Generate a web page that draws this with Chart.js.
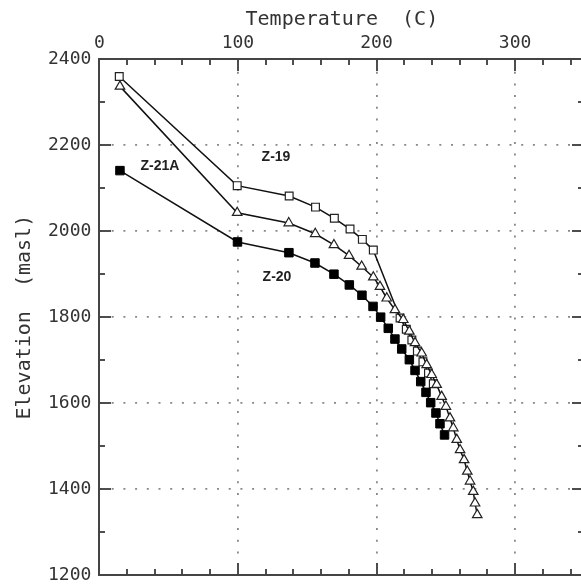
<!DOCTYPE html>
<html>
<head>
<meta charset="utf-8">
<script src="https://cdn.jsdelivr.net/npm/chart.js@4.4.0/dist/chart.umd.min.js"></script>
<style>
  html, body { margin: 0; padding: 0; background: #fff; overflow: hidden; }
  #wrap { width: 581px; height: 584px; overflow: hidden; }
</style>
</head>
<body>
<div id="wrap"><canvas id="mycanvas" width="600" height="584"></canvas></div>
<script>
// open squares
var temp19 = [14.4, 99.5, 137, 156, 169.6, 180.9, 189.8, 197.7, 217, 221.5, 225.5, 229.5, 233.5, 237.5, 241];
var elev19 = [2360, 2106, 2082, 2056, 2030, 2005, 1981, 1956, 1798, 1772, 1747, 1721, 1696, 1670, 1645];
// open triangles
var temp21 = [14.9, 99.5, 136.7, 155.8, 169.3, 180.2, 189.3, 197.7, 202.5, 207.4, 213.3, 219.3, 223.7, 227.8, 232.6,
              236.2, 239.8, 243.4, 247.0, 250.1, 253.0, 255.4, 257.9, 260.3, 263.2, 265.5, 267.5, 269.8, 271.1, 272.7];
var elev21 = [2337, 2043, 2019, 1994, 1968, 1943, 1918, 1893, 1871, 1844, 1817, 1794, 1767, 1740, 1716,
              1689, 1666, 1643, 1615, 1592, 1565, 1542, 1515, 1491, 1468, 1441, 1418, 1394, 1367, 1340];
// filled squares
var temp20 = [14.9, 99.7, 136.8, 155.6, 169.3, 180.4, 189.5, 197.5, 203, 208.5, 213.3, 218.2, 223.7, 227.8, 231.9,
              235.7, 239.1, 242.9, 245.8, 249.1];
var elev20 = [2141, 1975, 1950, 1926, 1900, 1875, 1851, 1825, 1800, 1774, 1749, 1726, 1701, 1676, 1650,
              1625, 1601, 1577, 1552, 1526];

// well labels written inside the plot (data coordinates)
var wellNames = ["Z-21A", "Z-19", "Z-20"];
var wellLabelX = [43.8, 127.5, 128.2];
var wellLabelY = [2152, 2173, 1894];

var xTicks = [0, 100, 200, 300];
var yTicks = [1200, 1400, 1600, 1800, 2000, 2200, 2400];

function pts(xs, ys) {
  var out = [];
  for (var i = 0; i < xs.length; i++) out.push({x: xs[i], y: ys[i]});
  return out;
}

var tickFont = { family: "'DejaVu Sans Mono', monospace", size: 18 };
var titleFont = { family: "'DejaVu Sans Mono', monospace", size: 20 };
var frameColor = '#444';

function noPad(scale) {
  scale.paddingLeft = 0; scale.paddingRight = 0;
  scale.paddingTop = 0; scale.paddingBottom = 0;
}

// frame drawn with filled rects, inward ticks, well names
function drawFrame(chart) {
  var c = chart.ctx, a = chart.chartArea;
  var xs = chart.scales.x, ys = chart.scales.y;
  var L = Math.round(a.left), T = Math.round(a.top), R = Math.round(a.right), B = Math.round(a.bottom);
  c.save();
  c.setLineDash([]);
  c.globalAlpha = 1;
  c.globalCompositeOperation = 'source-over';
  c.fillStyle = frameColor;
  c.fillRect(L - 1, T - 1, R - L + 2, 2);
  c.fillRect(L - 1, B - 1, R - L + 2, 2);
  c.fillRect(L - 1, T - 1, 2, B - T + 2);
  c.fillRect(R - 1, T - 1, 2, B - T + 2);
  for (var v = 0; v <= xs.max; v += 20) {
    var px = Math.round(xs.getPixelForValue(v));
    var len = (v % 100 === 0) ? 12 : 6;
    c.fillRect(px - 0.75, T, 1.5, len);
    c.fillRect(px - 0.75, B - len, 1.5, len);
  }
  for (var e = ys.min; e <= ys.max; e += 100) {
    var py = Math.round(ys.getPixelForValue(e));
    var l2 = (e % 200 === 0) ? 12 : 6;
    c.fillRect(L, py - 0.75, l2, 1.5);
    c.fillRect(R - l2, py - 0.75, l2, 1.5);
  }
  c.restore();
}

var framePlugin = {
  id: 'frame',
  afterDatasetsDraw: function(chart) {
    var c = chart.ctx;
    c.save();
    c.fillStyle = '#222';
    c.font = "bold 14px 'Liberation Sans', Arial, sans-serif";
    c.textAlign = 'center';
    c.textBaseline = 'middle';
    for (var i = 0; i < wellNames.length; i++) {
      c.fillText(wellNames[i], chart.scales.x.getPixelForValue(wellLabelX[i]), chart.scales.y.getPixelForValue(wellLabelY[i]));
    }
    c.restore();
    drawFrame(chart);
  },
  afterDraw: function(chart) {
    drawFrame(chart);
  }
};

var ctx = document.getElementById('mycanvas');
var myChart = new Chart(ctx, {
  type: 'scatter',
  data: {
    datasets: [
      { label: 'Z-19', data: pts(temp19, elev19), showLine: true, borderColor: '#111', borderWidth: 1.5,
        pointStyle: 'rect', pointRadius: 5.5, pointBackgroundColor: '#fff', pointBorderColor: '#222',
        pointBorderWidth: 1.2, order: 3 },
      { label: 'Z-21A', data: pts(temp21, elev21), showLine: true, borderColor: '#111', borderWidth: 1.5,
        pointStyle: 'triangle', pointRadius: 5.5, pointBackgroundColor: '#fff', pointBorderColor: '#222',
        pointBorderWidth: 1.2, order: 1 },
      { label: 'Z-20', data: pts(temp20, elev20), showLine: true, borderColor: '#111', borderWidth: 1.5,
        pointStyle: 'rect', pointRadius: 6, pointBackgroundColor: '#000', pointBorderColor: '#000',
        pointBorderWidth: 1, order: 2 }
    ]
  },
  options: {
    responsive: false,
    animation: false,
    layout: { padding: { left: 0, right: 15.6, top: 0, bottom: 9 } },
    plugins: { legend: { display: false } },
    scales: {
      x: {
        type: 'linear', position: 'top', min: 0, max: 350,
        afterBuildTicks: function(scale) { scale.ticks = xTicks.map(function(v) { return {value: v}; }); },
        afterFit: function(scale) { scale.height = 59.3; noPad(scale); },
        ticks: { font: tickFont, color: '#333', padding: 5, maxRotation: 0,
                 callback: function(v) { return String(v); } },
        grid: { drawTicks: false, lineWidth: 1.8,
                color: function(c) { return (c.tick && c.tick.value > 0) ? '#888' : 'rgba(0,0,0,0)'; } },
        border: { display: true, color: frameColor, width: 2, dash: [2, 9.7] },
        title: { display: true, text: 'Temperature  (C)', font: titleFont, color: '#333',
                 padding: { top: 8, bottom: 0 } }
      },
      y: {
        type: 'linear', min: 1200, max: 2400,
        afterBuildTicks: function(scale) { scale.ticks = yTicks.map(function(v) { return {value: v}; }); },
        afterFit: function(scale) { scale.width = 99.3; noPad(scale); },
        ticks: { font: tickFont, color: '#333', padding: 8,
                 callback: function(v) { return String(v); } },
        grid: { drawTicks: false, lineWidth: 1.8,
                color: function(c) { return (c.tick && c.tick.value > 1200 && c.tick.value < 2400) ? '#888' : 'rgba(0,0,0,0)'; } },
        border: { display: true, color: frameColor, width: 2, dash: [2, 9.7] },
        title: { display: true, text: 'Elevation  (masl)', font: titleFont, color: '#333',
                 padding: { top: 13, bottom: 0 } }
      },
      x2: {
        type: 'linear', position: 'bottom', min: 0, max: 350,
        ticks: { display: false }, grid: { display: false, drawTicks: false },
        border: { display: true, color: frameColor, width: 2 },
        afterFit: function(scale) { scale.height = 0; noPad(scale); }
      },
      y2: {
        type: 'linear', position: 'right', min: 1200, max: 2400,
        ticks: { display: false }, grid: { display: false, drawTicks: false },
        border: { display: true, color: frameColor, width: 2 },
        afterFit: function(scale) { scale.width = 0; noPad(scale); }
      }
    }
  },
  plugins: [framePlugin]
});
</script>
</body>
</html>
